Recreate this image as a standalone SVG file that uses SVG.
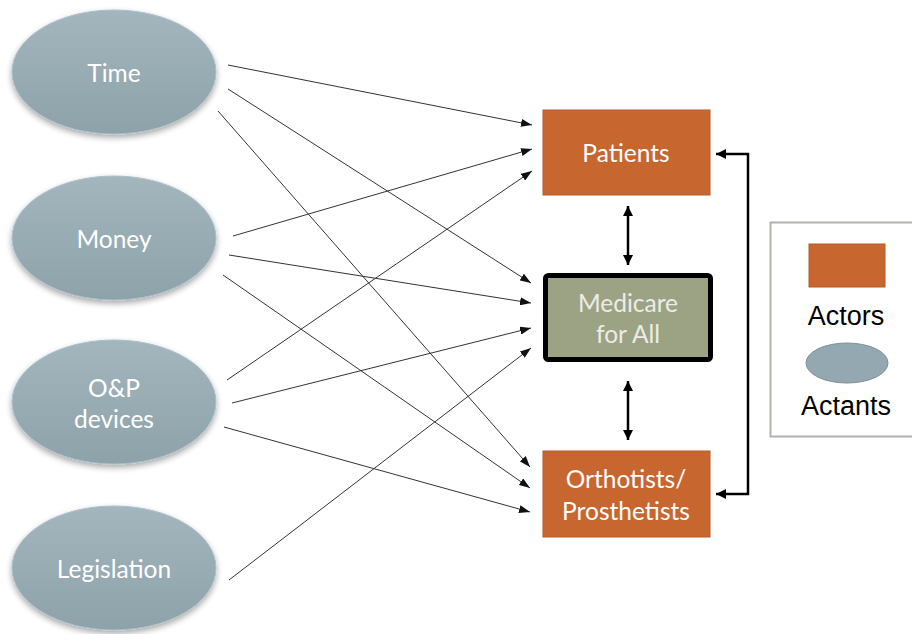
<svg xmlns="http://www.w3.org/2000/svg" width="912" height="634" viewBox="0 0 912 634">
<defs>
<linearGradient id="eg" x1="0" y1="0" x2="0" y2="1">
<stop offset="0" stop-color="#A3B6BD"/>
<stop offset="1" stop-color="#8EA2AA"/>
</linearGradient>
<filter id="sh" x="-20%" y="-20%" width="140%" height="150%">
<feGaussianBlur in="SourceAlpha" stdDeviation="3"/>
<feOffset dx="0" dy="3" result="b"/>
<feComponentTransfer><feFuncA type="linear" slope="0.35"/></feComponentTransfer>
<feMerge><feMergeNode/><feMergeNode in="SourceGraphic"/></feMerge>
</filter>
<marker id="ah" viewBox="0 0 11 8" refX="11" refY="4" markerWidth="11" markerHeight="8" markerUnits="userSpaceOnUse" orient="auto">
<path d="M0,0 L11,4 L0,8 Z" fill="#111"/>
</marker>
<marker id="bh" viewBox="0 0 10 10" refX="10" refY="5" markerWidth="10" markerHeight="10" markerUnits="userSpaceOnUse" orient="auto-start-reverse">
<path d="M0,0 L10,5 L0,10 Z" fill="#000"/>
</marker>
</defs>
<style>
.act{fill:url(#eg);stroke:#A9C0CC;stroke-width:1;filter:url(#sh)}
.lbl{font-family:Lato,"Open Sans",sans-serif;font-size:24.5px;fill:#fff;text-anchor:middle}
.box{fill:#C8662F;stroke:#B85A28;stroke-width:1}
.ln{stroke:#333;stroke-width:1;fill:none;marker-end:url(#ah)}
.bl{stroke:#000;stroke-width:2.5;fill:none;marker-end:url(#bh)}
.leg{font-family:"Liberation Sans",Arial,sans-serif;font-size:27px;fill:#000;text-anchor:middle}
</style>
<rect width="912" height="634" fill="#fff"/>
<g id="connectors">
<line class="ln" x1="228" y1="65" x2="532" y2="125"/>
<line class="ln" x1="228" y1="89" x2="531" y2="283"/>
<line class="ln" x1="218" y1="111" x2="530" y2="467"/>
<line class="ln" x1="233" y1="236" x2="532" y2="149"/>
<line class="ln" x1="229" y1="255" x2="531" y2="303"/>
<line class="ln" x1="223" y1="275" x2="530" y2="488"/>
<line class="ln" x1="227" y1="380" x2="532" y2="171"/>
<line class="ln" x1="232" y1="403" x2="531" y2="328"/>
<line class="ln" x1="224" y1="427" x2="530" y2="512"/>
<line class="ln" x1="229" y1="580" x2="531" y2="348"/>
<line class="bl" x1="628" y1="206" x2="628" y2="265" marker-start="url(#bh)"/>
<line class="bl" x1="628" y1="381" x2="628" y2="440" marker-start="url(#bh)"/>
<path class="bl" d="M716,154 L748,154 L748,494 L716,494" marker-start="url(#bh)"/>
</g>
<g id="time"><ellipse class="act" cx="114" cy="72" rx="102" ry="62"/><text class="lbl" x="114" y="82">Time</text></g>
<g id="money"><ellipse class="act" cx="114" cy="238" rx="102" ry="62"/><text class="lbl" x="114" y="248">Money</text></g>
<g id="op-devices"><ellipse class="act" cx="114" cy="402" rx="102" ry="62"/><text class="lbl" x="114" y="397">O&amp;P</text><text class="lbl" x="114" y="428">devices</text></g>
<g id="legislation"><ellipse class="act" cx="114" cy="568" rx="102" ry="62"/><text class="lbl" x="114" y="578">Legislation</text></g>
<g id="patients"><rect class="box" x="543" y="110" width="167" height="85"/><text class="lbl" x="626" y="162">Patients</text></g>
<g id="medicare"><rect x="545.5" y="275.5" width="165" height="84" rx="3" fill="#9CA384" stroke="#000" stroke-width="5"/><text class="lbl" x="628" y="312" style="fill:#ECECE6">Medicare</text><text class="lbl" x="628" y="343" style="fill:#ECECE6">for All</text></g>
<g id="orthotists"><rect class="box" x="543" y="451" width="167" height="86"/><text class="lbl" x="626" y="488">Orthotists/</text><text class="lbl" x="626" y="520">Prosthetists</text></g>
<g id="legend">
<rect x="770.5" y="222.5" width="150" height="214" fill="#fff" stroke="#B5B2AA" stroke-width="2"/>
<rect class="box" x="809" y="244" width="76" height="43"/>
<text class="leg" x="846" y="325">Actors</text>
<ellipse cx="847" cy="363" rx="41" ry="20" fill="#93A8B0" stroke="#7F9098" stroke-width="1"/>
<text class="leg" x="846" y="415">Actants</text>
</g>
</svg>
